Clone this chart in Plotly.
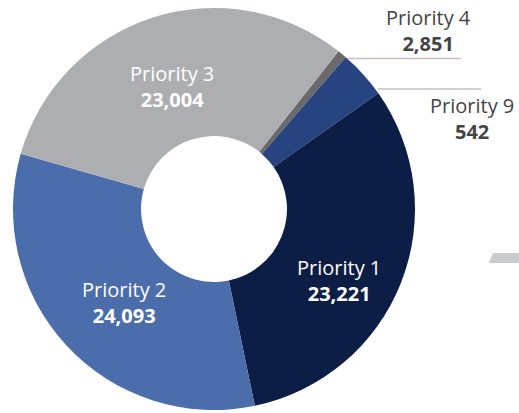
import plotly.graph_objects as go

W, H = 519, 413

labels = ["Priority 9", "Priority 4", "Priority 1", "Priority 2", "Priority 3"]
values = [542, 2851, 23221, 24093, 23004]
colors = ["#6a6a6a", "#274480", "#0c1e45", "#4c6dab", "#adaeb2"]

# label placement (px): block-center x, name-center y, colour
label_pos = {
    "Priority 3": (172, 74, "white"),
    "Priority 1": (339, 268, "white"),
    "Priority 2": (124, 290, "white"),
    "Priority 4": (428, 18, "#444444"),
    "Priority 9": (472, 106, "#444444"),
}

cx, cy, r = 214, 209, 201
fig = go.Figure()
fig.add_trace(go.Pie(
    labels=labels, values=values, sort=False, direction="clockwise",
    rotation=38.3, hole=0.363,
    marker=dict(colors=colors, line=dict(width=0)),
    textinfo="none", hoverinfo="label+value", showlegend=False,
    domain=dict(x=[(cx - r) / W, (cx + r) / W], y=[1 - (cy + r) / H, 1 - (cy - r) / H]),
))

def px(x):
    return x / W

def py(y):
    return 1 - y / H

font = "Open Sans"
for name, v in zip(labels, values):
    x, y, c = label_pos[name]
    fig.add_annotation(x=px(x), y=py(y + 12.5), xref="paper", yref="paper",
                       text=f"{name}<br><b>{v:,}</b>",
                       xanchor="center", yanchor="middle", align="center",
                       showarrow=False, font=dict(family=font, size=20, color=c))

# leader lines
fig.add_shape(type="line", xref="paper", yref="paper", x0=px(347), y0=py(58.5), x1=px(461), y1=py(58.5),
              line=dict(color="#c9bfb6", width=1.5))
fig.add_shape(type="line", xref="paper", yref="paper", x0=px(378), y0=py(89), x1=px(481), y1=py(89),
              line=dict(color="#c9bfb6", width=1.5))
# decorative gray sliver at right edge
fig.add_shape(type="path", xref="paper", yref="paper",
              path=f"M {px(493)} {py(253)} L {px(519)} {py(253)} L {px(519)} {py(263)} L {px(489)} {py(263)} Z",
              fillcolor="#cacbcd", line=dict(width=0))

fig.update_layout(width=W, height=H, margin=dict(l=0, r=0, t=0, b=0),
                  paper_bgcolor="white", plot_bgcolor="white")
fig.write_html("out.html", config={"displayModeBar": False},
               post_script="document.body.style.margin='0';document.body.style.overflow='hidden';")
